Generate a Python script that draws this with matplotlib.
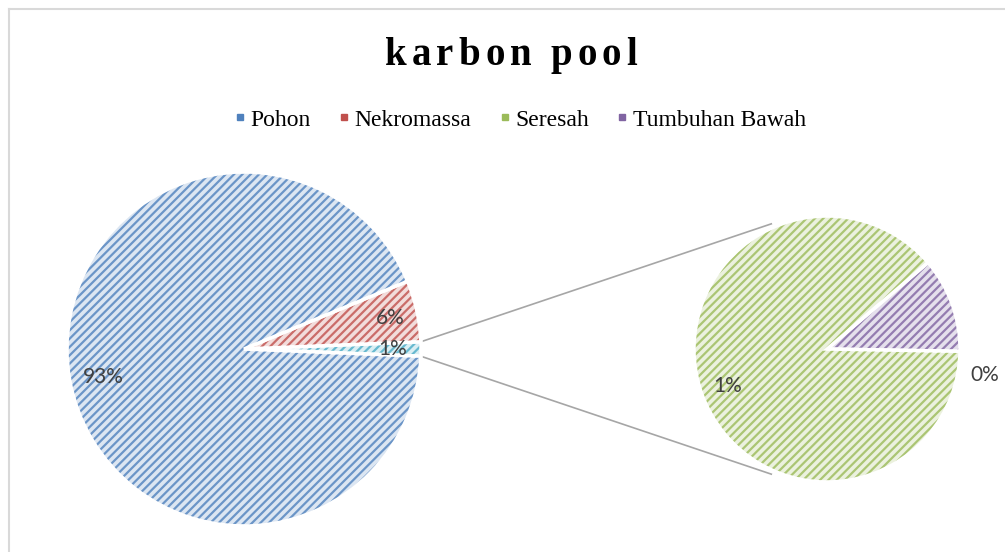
import numpy as np
import matplotlib.pyplot as plt
from matplotlib.patches import Wedge
from matplotlib.lines import Line2D

# carbon share per pool (%)
categories = ['Pohon', 'Nekromassa', 'Seresah', 'Tumbuhan Bawah']
carbon_pct = [93.1, 5.6, 1.15, 0.15]
title_text = 'karbon pool'

line_colors = ['#4f81bd', '#c0504d', '#9bbb59', '#8064a2']
fill_colors = ['#dce6f2', '#f2dcdb', '#ebf1de', '#e5e0ec']
other_line, other_fill = '#4bacc6', '#daeef3'

W, H = 1005, 552
plt.rcParams['hatch.linewidth'] = 1.6

fig = plt.figure(figsize=(W / 100, H / 100), dpi=100)
ax = fig.add_axes([0, 0, 1, 1])


def py(y):
    # pixel rows counted from the top
    return H - y


def hatched_pie(values, fills, lines, center, radius, start):
    wedges, _ = ax.pie(values, colors=fills, center=center, radius=radius,
                       startangle=start, counterclock=True,
                       wedgeprops=dict(linewidth=0))
    for w, lc in zip(wedges, lines):
        ax.add_patch(Wedge(w.center, w.r, w.theta1, w.theta2, facecolor='none',
                           edgecolor=lc, hatch='////', linewidth=0, alpha=0.8))
        ax.add_patch(Wedge(w.center, w.r, w.theta1, w.theta2, facecolor='none',
                           edgecolor='white', linewidth=2.5))
    return wedges


pohon, nekro, seresah, bawah = carbon_pct
other = seresah + bawah

# main pie: "other" slice centred on the right
c1, r1 = (244, py(349)), 177
other_deg = other / sum(carbon_pct) * 360
main = hatched_pie([other, nekro, pohon],
                   [other_fill, fill_colors[1], fill_colors[0]],
                   [other_line, line_colors[1], line_colors[0]],
                   c1, r1, -other_deg / 2)

# secondary pie splitting the "other" slice
c2, r2 = (827, py(349)), 133
sub = hatched_pie([bawah, seresah], [fill_colors[3], fill_colors[2]],
                  [line_colors[3], line_colors[2]], c2, r2, -1)

# connector lines
w_other = main[0]
for a1, a2 in [(w_other.theta2, 114), (w_other.theta1, -114)]:
    x1 = c1[0] + r1 * np.cos(np.radians(a1))
    y1 = c1[1] + r1 * np.sin(np.radians(a1))
    x2 = c2[0] + r2 * 1.03 * np.cos(np.radians(a2))
    y2 = c2[1] + r2 * 1.03 * np.sin(np.radians(a2))
    ax.plot([x1, x2], [y1, y2], color='#a6a6a6', lw=1.2, zorder=0)

# data labels
lab_kw = dict(fontsize=15, color='#404040', family='Lato', ha='center', va='center')
ax.text(103, py(377), f'{round(pohon)}%', **lab_kw)
ax.text(390, py(318), f'{round(nekro)}%', **lab_kw)
ax.text(393, py(349), f'{round(other)}%', **lab_kw)
ax.text(728, py(386), f'{round(seresah)}%', **lab_kw)
ax.text(985, py(375), f'{round(bawah)}%', **lab_kw)

ax.set_xlim(0, W)
ax.set_ylim(0, H)
ax.set_aspect('equal')
ax.axis('off')

# title with wide letter spacing
title_kw = dict(fontsize=28, fontweight='bold', family='Liberation Serif', color='black')
renderer = fig.canvas.get_renderer()
tracking = 5
widths = []
for ch in title_text:
    if ch == ' ':
        widths.append(28 * 100 / 72 * 0.25)
        continue
    t = ax.text(0, 0, ch, **title_kw)
    widths.append(t.get_window_extent(renderer).width)
    t.remove()
total = sum(widths) + tracking * (len(title_text) - 1)
x = 511 - total / 2
for ch, w in zip(title_text, widths):
    if ch != ' ':
        ax.text(x, py(65), ch, ha='left', va='baseline', **title_kw)
    x += w + tracking

# legend
handles = [Line2D([], [], marker='s', ls='none', markersize=5, color=c) for c in line_colors]
ax.legend(handles, categories, loc='center', bbox_to_anchor=(520 / W, 1 - 120 / H),
          ncol=4, frameon=False, handlelength=0.5, handletextpad=0.2,
          columnspacing=1.15, prop={'family': 'Liberation Serif', 'size': 17})

# chart area border (left and top edges)
fig.add_artist(Line2D([8.5 / W, 8.5 / W], [0, 1 - 8.5 / H], transform=fig.transFigure,
                      color='#d9d9d9', lw=1.5))
fig.add_artist(Line2D([8.5 / W, 1], [1 - 8.5 / H, 1 - 8.5 / H], transform=fig.transFigure,
                      color='#d9d9d9', lw=1.5))

fig.savefig('out.png', dpi=100)
